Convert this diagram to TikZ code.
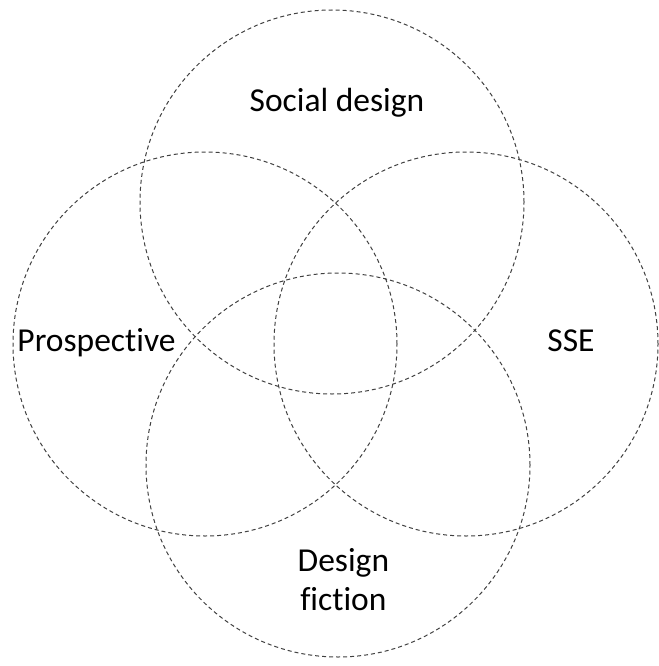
\documentclass[tikz,border=0pt]{standalone}
\usepackage{fontspec}
\setmainfont[Ligatures=NoCommon]{Carlito}
\usepackage{tikz}
\usetikzlibrary{calc}

\begin{document}
\begin{tikzpicture}[x=1pt,y=-1pt]
		\useasboundingbox (0,0) rectangle (658,666);
		\tikzset{ring/.style={circle,draw=black!75,dashed,dash pattern=on 4pt off 3pt,line width=1pt,inner sep=0pt,minimum size=384pt},
			lab/.style={anchor=base,font=\fontsize{33.5}{40}\selectfont,inner sep=0pt}}
		\node[ring] (S) at (332,202) {};
		\node[ring] (P) at (205,344) {};
		\node[ring] (E) at (466,344) {};
		\node[ring] (F) at (338,465) {};
		\node[lab] (LS) at (337,111) {Social design};
		\node[lab] (LP) at (96.5,351.7) {Prospective};
		\node[lab] (LE) at (571,351.7) {SSE};
		\node[lab] (LF0) at (343.4,571.5) {Design};
		\node[lab] (LF1) at (343.4,610.6) {fiction};
\end{tikzpicture}
\end{document}
